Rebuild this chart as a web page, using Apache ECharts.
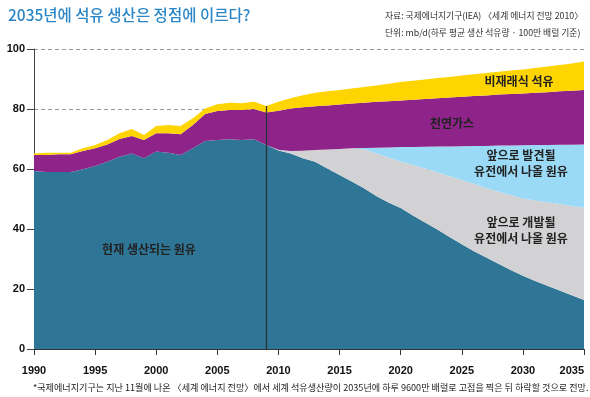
<!DOCTYPE html>
<html>
<head>
<meta charset="utf-8">
<script src="https://cdn.jsdelivr.net/npm/echarts@6/dist/echarts.min.js"></script>
<style>
  html, body { margin: 0; padding: 0; background: #fff; }
  #chart { width: 590px; height: 397px; }
</style>
</head>
<body>
<div id="chart"></div>
<script>
// 연도 (1990 ~ 2035)
var years = [];
for (var y = 1990; y <= 2035; y++) years.push(String(y));

// 현재 생산되는 원유 (mb/d)
var currentCrude = [59.3, 59.0, 59.0, 59.0, 59.9, 61.0, 62.4, 64.1, 65.2, 63.6,
  65.8, 65.4, 64.7, 66.9, 69.3, 69.7, 69.9, 69.7, 69.9, 68.0,
  66.2, 65.2, 63.6, 62.4, 60.2, 58.0, 55.8, 53.6, 51.0, 48.8,
  47.0, 44.5, 42.2, 39.8, 37.3, 34.9, 32.6, 30.5, 28.4, 26.3,
  24.4, 22.7, 21.1, 19.5, 17.9, 16.3];
// 앞으로 개발될 유전에서 나올 원유
var toBeDeveloped = [0, 0, 0, 0, 0, 0, 0, 0, 0, 0,
  0, 0, 0, 0, 0, 0, 0, 0, 0, 0,
  0.2, 0.8, 2.5, 3.9, 6.3, 8.7, 11.1, 13.0, 14.2, 15.0,
  15.4, 16.8, 18.0, 19.1, 20.3, 21.4, 22.4, 23.2, 24.0, 25.0,
  25.8, 26.8, 27.8, 28.8, 29.8, 30.9];
// 앞으로 발견될 유전에서 나올 원유
var yetToBeFound = [0, 0, 0, 0, 0, 0, 0, 0, 0, 0,
  0, 0, 0, 0, 0, 0, 0, 0, 0, 0,
  0, 0, 0, 0, 0, 0, 0, 0.4, 1.9, 3.4,
  4.9, 6.0, 7.2, 8.6, 9.9, 11.3, 12.7, 14.0, 15.4, 16.5,
  17.7, 18.5, 19.1, 19.8, 20.4, 21.0];
// 천연가스
var naturalGas = [5.4, 5.7, 5.9, 5.9, 6.1, 5.9, 5.8, 5.9, 5.8, 6.1,
  6.1, 6.5, 6.9, 7.8, 9.0, 9.6, 9.8, 10.0, 10.1, 10.8,
  13.0, 14.2, 14.5, 14.6, 14.7, 14.8, 14.9, 15.1, 15.3, 15.4,
  15.5, 15.8, 15.9, 16.1, 16.3, 16.5, 16.6, 16.8, 17.0, 17.2,
  17.3, 17.4, 17.6, 17.8, 18.0, 18.1];
// 비재래식 석유
var unconventional = [0.5, 0.7, 0.5, 0.5, 0.9, 1.1, 1.5, 1.9, 2.3, 1.6,
  2.4, 2.8, 2.7, 2.2, 1.9, 2.3, 2.4, 2.2, 2.4, 2.2,
  3.0, 3.4, 4.0, 4.5, 4.7, 4.8, 5.0, 5.2, 5.4, 5.8,
  6.2, 6.3, 6.5, 6.7, 6.9, 7.1, 7.3, 7.5, 7.6, 7.8,
  8.0, 8.3, 8.6, 8.8, 9.1, 9.5];

var yTicks = [0, 20, 40, 60, 80, 100];
var baseYear = '2009';

var chart = echarts.init(document.getElementById('chart'), null, { renderer: 'canvas' });

function band(name, data, color) {
  return {
    name: name,
    type: 'line',
    stack: 'total',
    data: data,
    symbol: 'none',
    silent: true,
    lineStyle: { width: 0 },
    areaStyle: { color: color, opacity: 1 }
  };
}

var labelFont = 'bold 12px "Noto Sans CJK KR", sans-serif';

var option = {
  animation: false,
  backgroundColor: '#fff',
  title: {
    text: '2035년에 석유 생산은 정점에 이르다?',
    left: 3,
    top: 2,
    textStyle: { color: '#2a86c6', fontSize: 15.5, fontWeight: 500, fontFamily: '"Noto Sans CJK KR", sans-serif' }
  },
  grid: { left: 34, right: 6, top: 49, bottom: 48 },
  xAxis: {
    type: 'category',
    data: years,
    boundaryGap: false,
    axisLine: { lineStyle: { color: '#333' } },
    axisTick: { alignWithLabel: true, interval: 4, length: 6, lineStyle: { color: '#333' } },
    axisLabel: {
      interval: 4,
      color: '#111',
      fontSize: 11,
      fontWeight: 'bold',
      fontFamily: 'Liberation Sans, Arial, sans-serif',
      margin: 16,
      alignMaxLabel: 'right'
    },
    splitLine: { show: false }
  },
  yAxis: {
    type: 'value',
    min: yTicks[0],
    max: yTicks[yTicks.length - 1],
    interval: 20,
    axisLine: { show: true, lineStyle: { color: '#444' } },
    axisTick: { show: true, length: 7, lineStyle: { color: '#444' } },
    axisLabel: {
      color: '#111',
      fontSize: 11,
      fontWeight: 'bold',
      fontFamily: 'Liberation Sans, Arial, sans-serif',
      margin: 9
    },
    splitLine: { show: true, lineStyle: { color: '#999', type: [4, 3], width: 1 } }
  },
  series: [
    band('현재 생산되는 원유', currentCrude, '#2e7596'),
    band('앞으로 개발될 유전에서 나올 원유', toBeDeveloped, '#d2d2d4'),
    band('앞으로 발견될 유전에서 나올 원유', yetToBeFound, '#9bdaf6'),
    band('천연가스', naturalGas, '#8e2489'),
    band('비재래식 석유', unconventional, '#fed500'),
    {
      name: 'base',
      type: 'line',
      data: [],
      z: 5,
      silent: true,
      markLine: {
        silent: true,
        symbol: 'none',
        label: { show: false },
        lineStyle: { color: '#2b3338', width: 1.3, type: 'solid' },
        data: [[{ coord: [baseYear, 0] }, { coord: [baseYear, 81] }]]
      }
    }
  ],
  graphic: [
    { type: 'text', left: 385, top: 11, style: { text: '자료: 국제에너지기구(IEA) 〈세계 에너지 전망 2010〉', font: '8.8px "Noto Sans CJK KR", sans-serif', fill: '#333' } },
    { type: 'text', left: 385, top: 28, style: { text: '단위: mb/d(하루 평균 생산 석유량 · 100만 배럴 기준)', font: '8.8px "Noto Sans CJK KR", sans-serif', fill: '#333' } },
    { type: 'text', left: 33, top: 383, style: { text: '*국제에너지기구는 지난 11월에 나온 〈세계 에너지 전망〉에서 세계 석유생산량이 2035년에 하루 9600만 배럴로 고점을 찍은 뒤 하락할 것으로 전망.', font: '9.1px "Noto Sans CJK KR", sans-serif', fill: '#222' } },
    { type: 'text', x: 519, y: 81, z: 10, style: { text: '비재래식 석유', font: labelFont, fill: '#222', align: 'center', verticalAlign: 'middle' } },
    { type: 'text', x: 452, y: 123, z: 10, style: { text: '천연가스', font: labelFont, fill: '#222', align: 'center', verticalAlign: 'middle' } },
    { type: 'text', x: 521, y: 163, z: 10, style: { text: '앞으로 발견될\n유전에서 나올 원유', font: labelFont, lineHeight: 16, fill: '#222', align: 'center', verticalAlign: 'middle' } },
    { type: 'text', x: 521, y: 230, z: 10, style: { text: '앞으로 개발될\n유전에서 나올 원유', font: labelFont, lineHeight: 16, fill: '#222', align: 'center', verticalAlign: 'middle' } },
    { type: 'text', x: 149, y: 249, z: 10, style: { text: '현재 생산되는 원유', font: labelFont, fill: '#222', align: 'center', verticalAlign: 'middle' } }
  ]
};

chart.setOption(option);
</script>
</body>
</html>
